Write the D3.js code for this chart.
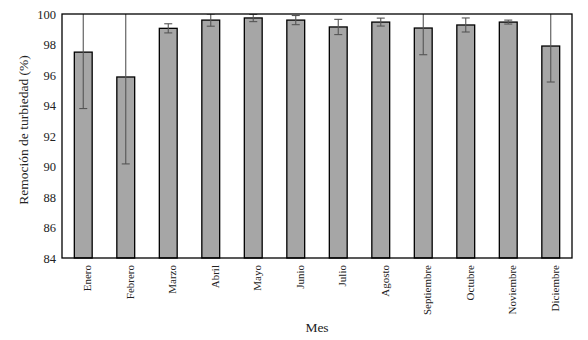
<!DOCTYPE html>
<html>
<head>
<meta charset="utf-8">
<script src="https://cdn.jsdelivr.net/npm/d3@7"></script>
<style>
  body { margin: 0; background: #fff; }
  text { font-family: "Liberation Serif", "Times New Roman", serif; fill: #222; }
</style>
</head>
<body>
<svg id="chart" width="588" height="340"></svg>
<script>
// monthly turbidity removal, mean and std dev
const months = ['Enero', 'Febrero', 'Marzo', 'Abril', 'Mayo', 'Junio',
    'Julio', 'Agosto', 'Septiembre', 'Octubre', 'Noviembre', 'Diciembre'];
const removal = [97.5, 95.87, 99.06, 99.6, 99.74, 99.6, 99.15, 99.47, 99.08, 99.28, 99.47, 97.9];
const stdDev = [3.7, 5.7, 0.3, 0.4, 0.24, 0.3, 0.5, 0.26, 1.75, 0.46, 0.13, 2.36];
const yTicks = [84, 86, 88, 90, 92, 94, 96, 98, 100];

const svg = d3.select('#chart');
const margin = { left: 62, right: 16, top: 14, bottom: 82 };
const width = 588 - margin.left - margin.right;
const height = 340 - margin.top - margin.bottom;

const x = d3.scaleBand().domain(months).range([0, width]).paddingInner(0.58).paddingOuter(0.29);
const y = d3.scaleLinear().domain([84, 100]).range([height, 0]);

svg.append('defs').append('clipPath').attr('id', 'plotClip')
    .append('rect').attr('width', width).attr('height', height);

const g = svg.append('g').attr('transform', `translate(${margin.left},${margin.top})`);

// bars
g.selectAll('rect.bar')
    .data(months)
    .join('rect')
    .attr('class', 'bar')
    .attr('x', d => x(d))
    .attr('y', (d, i) => y(removal[i]))
    .attr('width', x.bandwidth())
    .attr('height', (d, i) => height - y(removal[i]))
    .attr('fill', '#a6a6a6')
    .attr('stroke', '#000')
    .attr('stroke-width', 1.3);

// error bars
const err = g.append('g').attr('clip-path', 'url(#plotClip)')
    .attr('stroke', '#555').attr('stroke-width', 1.1);
months.forEach((m, i) => {
    const cx = x(m) + x.bandwidth() / 2;
    const hi = y(removal[i] + stdDev[i]);
    const lo = y(removal[i] - stdDev[i]);
    err.append('line').attr('x1', cx).attr('x2', cx).attr('y1', hi).attr('y2', lo);
    [hi, lo].forEach(v => {
        err.append('line').attr('x1', cx - 4).attr('x2', cx + 4).attr('y1', v).attr('y2', v);
    });
});

// frame
g.append('rect').attr('width', width).attr('height', height)
    .attr('fill', 'none').attr('stroke', '#000').attr('stroke-width', 1.3);

// y axis labels
const yAxis = g.append('g').call(d3.axisLeft(y).tickValues(yTicks).tickSize(0).tickPadding(6));
yAxis.select('.domain').remove();
yAxis.selectAll('text').attr('font-size', 12.5).style('font-family', '"Liberation Serif", serif');

// x axis labels, rotated
const xAxis = g.append('g').attr('transform', `translate(0,${height})`)
    .call(d3.axisBottom(x).tickSize(0).tickPadding(0));
xAxis.select('.domain').remove();
xAxis.selectAll('text')
    .attr('font-size', 11)
    .style('font-family', '"Liberation Serif", serif')
    .attr('text-anchor', 'end')
    .attr('transform', 'translate(8,7) rotate(-90)')
    .attr('dy', 0)
    .attr('y', 0);

svg.append('text')
    .attr('x', margin.left + width / 2)
    .attr('y', 332)
    .attr('text-anchor', 'middle')
    .attr('font-size', 13.5)
    .text('Mes');

svg.append('text')
    .attr('transform', `translate(28,${margin.top + height / 2 - 6}) rotate(-90)`)
    .attr('text-anchor', 'middle')
    .attr('font-size', 13.5)
    .text('Remoción de turbiedad (%)');
</script>
</body>
</html>
